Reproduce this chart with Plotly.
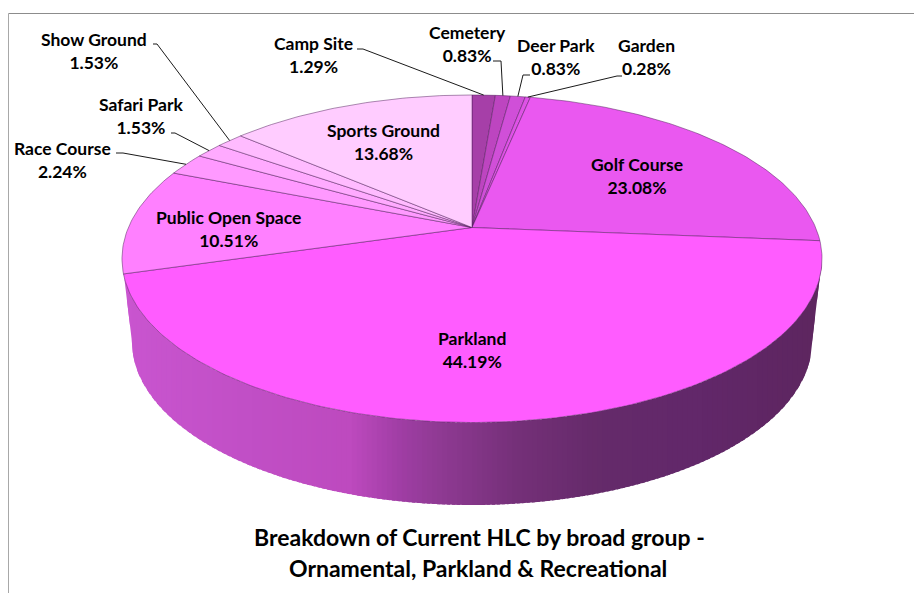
import numpy as np
import plotly.graph_objects as go

categories = ["Camp Site", "Cemetery", "Deer Park", "Garden", "Golf Course", "Parkland",
              "Public Open Space", "Race Course", "Safari Park", "Show Ground", "Sports Ground"]
values = [1.29, 0.83, 0.83, 0.28, 23.08, 44.19, 10.51, 2.24, 1.53, 1.53, 13.68]
slice_colors = ["#a63fa8", "#bd45c0", "#d04fd8", "#df52e6", "#ea58f0", "#ff5cff",
                "#ff80ff", "#ff99ff", "#ffaaff", "#ffbbff", "#ffccff"]
# label centres (px)
label_x = [313, 467, 556, 646, 637, 472, 228, 62, 141, 94, 383]
label_y = [55, 43.5, 57, 57, 176, 350, 229, 160, 116, 51, 142]
# leader lines: start beside the label, knee, then the rim point of the slice
start_x = [357, 493, 530, 622, None, None, None, 116, 171, 153, None]
knee_x = [363, 501, 523, 617, None, None, None, 123, 175, 157, None]
knee_y = [49, 61, 75, 76, None, None, None, 153, 133, 44, None]
title_lines = ["Breakdown of Current HLC by broad group -", "Ornamental, Parkland & Recreational"]
title_x = [479, 477.5]
title_y = [537, 568]
side_x = [132, 250, 350, 400, 440, 520, 600, 700, 812]
side_colors = ["#c955cf", "#c14fc6", "#be4abf", "#a03ea5", "#8f3a93", "#743078", "#652b6a", "#62286a", "#5e2660"]

CX, CY = 472.0, 227.5
A, B, K = 343.6, 157.8, 0.1908
FONT = "Lato"
LABEL_SIZE = 17.5
TITLE_SIZE = 23
LOW_CY, LOW_RX, LOW_RY = 342.0, 340.0, 163.0


def project(theta):
    """Perspective view of the pie's top circle (theta clockwise from 12 o'clock)."""
    X, Y = np.sin(theta), np.cos(theta)
    w = 1 + K * Y
    return CX + A * X / w, CY - B * Y / w


def hex_rgb(h):
    return np.array([int(h[i:i + 2], 16) for i in (1, 3, 5)], float)


TH_R = np.arccos(-K)
front = np.linspace(TH_R, 2 * np.pi - TH_R, 2000)
front_x, front_y = project(front)
order = np.argsort(front_x)
front_x, front_y = front_x[order], front_y[order]
x_min, x_max = front_x[0], front_x[-1]


def upper(x):
    return np.interp(x, front_x, front_y)


def lower(x):
    d = np.abs(x - CX)
    inside = LOW_CY + LOW_RY * np.sqrt(np.clip(1 - (d / LOW_RX) ** 2, 0, 1))
    edge = LOW_CY + (d - LOW_RX) / (x_max - CX - LOW_RX) * (upper(np.full_like(x, x_max)) - LOW_CY)
    return np.where(d <= LOW_RX, inside, edge)


fig = go.Figure()

# side wall, drawn as overlapping strips so that it shades from left to right
rr = np.array([hex_rgb(c) for c in side_colors])
strip_edges = np.linspace(x_min, x_max, 141)
for a, b in zip(strip_edges[:-1], strip_edges[1:]):
    xs = np.linspace(a, min(b + 3, x_max), 8)
    col = [np.interp((a + b) / 2, side_x, rr[:, i]) for i in range(3)]
    c = "rgb(%d,%d,%d)" % tuple(col)
    fig.add_trace(go.Scatter(x=np.r_[xs, xs[::-1]], y=np.r_[upper(xs), lower(xs)[::-1]], mode="lines",
                             fill="toself", fillcolor=c, line=dict(color=c, width=0),
                             hoverinfo="skip", showlegend=False))

# top face
cum = np.cumsum([0] + values) / sum(values) * 2 * np.pi
for i, name in enumerate(categories):
    th = np.linspace(cum[i], cum[i + 1], max(3, int(values[i] * 4)))
    px, py = project(th)
    fig.add_trace(go.Scatter(x=np.r_[CX, px, CX], y=np.r_[CY, py, CY], mode="lines",
                             fill="toself", fillcolor=slice_colors[i],
                             line=dict(color="rgba(80,30,90,0.7)", width=0.7),
                             name=name, hoverinfo="name", showlegend=False))

# leader lines
for i in range(len(categories)):
    if start_x[i] is None:
        continue
    px, py = project((cum[i] + cum[i + 1]) / 2)
    fig.add_trace(go.Scatter(x=[start_x[i], knee_x[i], px], y=[knee_y[i], knee_y[i], py], mode="lines",
                             line=dict(color="#1a1a1a", width=1), hoverinfo="skip", showlegend=False))

ann = []
for i, name in enumerate(categories):
    ann.append(dict(x=label_x[i], y=label_y[i], xref="x", yref="y", showarrow=False,
                    text=f"<b>{name}<br>{values[i]:.2f}%</b>", align="center",
                    font=dict(family=FONT, size=LABEL_SIZE, color="#000000")))
for j, line in enumerate(title_lines):
    ann.append(dict(x=title_x[j], y=title_y[j], xref="x", yref="y", showarrow=False, text=f"<b>{line}</b>",
                    font=dict(family=FONT, size=TITLE_SIZE, color="#000000")))

# the page keeps an 8px body margin, so the figure starts at (8, 8)
fig.update_layout(
    width=914, height=585, margin=dict(l=0, r=0, t=0, b=0),
    paper_bgcolor="white", plot_bgcolor="white", showlegend=False,
    xaxis=dict(range=[8, 922], visible=False, fixedrange=True),
    yaxis=dict(range=[593, 8], visible=False, fixedrange=True),
    annotations=ann,
    shapes=[
        dict(type="line", xref="x", yref="y", x0=8.5, x1=922, y0=13.5, y1=13.5, line=dict(color="#8c8c8c", width=1)),
        dict(type="line", xref="x", yref="y", x0=8.5, x1=8.5, y0=13.5, y1=593, line=dict(color="#a8a8a8", width=1)),
    ],
)
fig.write_html("out.html")
